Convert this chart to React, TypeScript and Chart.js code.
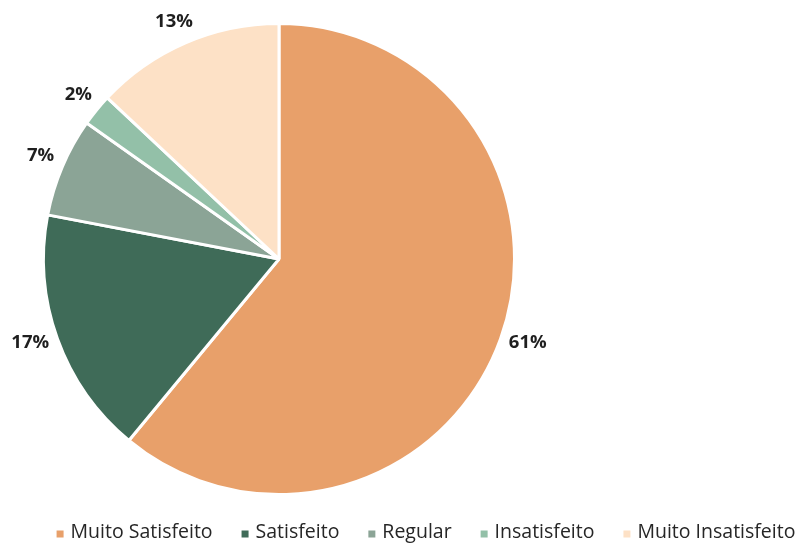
import React, { useEffect, useRef } from "react";
import { Chart, registerables } from "chart.js";

Chart.register(...registerables);

const categories = ["Muito Satisfeito", "Satisfeito", "Regular", "Insatisfeito", "Muito Insatisfeito"];
const values = [61, 17, 6.8, 2.2, 13];
const valueLabels = ["61%", "17%", "7%", "2%", "13%"];
const colors = ["#E8A06A", "#3F6B58", "#8BA496", "#93C0A8", "#FDE1C6"];

const FONT = "'Open Sans', 'Liberation Sans', sans-serif";

const outsideLabels = {
  id: "outsideLabels",
  afterDatasetsDraw(chart: any) {
    const ctx = chart.ctx;
    const meta = chart.getDatasetMeta(0);
    ctx.save();
    ctx.font = `bold 18.5px ${FONT}`;
    ctx.fillStyle = "#1F1F1F";
    ctx.textAlign = "center";
    ctx.textBaseline = "middle";
    meta.data.forEach((arc: any, i: number) => {
      const mid = (arc.startAngle + arc.endAngle) / 2;
      const dx = Math.cos(mid);
      const dy = Math.sin(mid);
      const r = arc.outerRadius + 10;
      const text = valueLabels[i];
      const w = ctx.measureText(text).width;
      const h = 20;
      const x = arc.x + dx * r + (dx * w) / 2;
      const y = arc.y + dy * r + (dy * h) / 2 - 3;
      ctx.fillText(text, x, y);
    });
    ctx.restore();
  },
};

const customLegend = {
  id: "customLegend",
  afterDraw(chart: any) {
    const ctx = chart.ctx;
    ctx.save();
    ctx.font = `19.5px ${FONT}`;
    ctx.textBaseline = "middle";
    ctx.textAlign = "left";
    const box = 7;
    const gapBoxText = 7;
    const gapItems = 29;
    const widths = categories.map((c) => ctx.measureText(c).width);
    const total = widths.reduce((a, w) => a + box + gapBoxText + w, 0) + gapItems * (categories.length - 1);
    let x = 426 - total / 2;
    const y = 532;
    categories.forEach((c, i) => {
      ctx.fillStyle = colors[i];
      ctx.fillRect(x, y - 1.5, box, box);
      x += box + gapBoxText;
      ctx.fillStyle = "#262626";
      ctx.fillText(c, x, y);
      x += widths[i] + gapItems;
    });
    ctx.restore();
  },
};

export default function App() {
  const ref = useRef<HTMLCanvasElement | null>(null);
  useEffect(() => {
    if (!ref.current) return;
    const chart = new Chart(ref.current, {
      type: "pie",
      data: {
        labels: categories,
        datasets: [
          {
            data: values,
            backgroundColor: colors,
            borderColor: "#FFFFFF",
            borderWidth: 3,
          },
        ],
      },
      options: {
        responsive: false,
        animation: false,
        layout: { padding: { left: 42, right: 281, top: 22, bottom: 51 } },
        plugins: {
          legend: { display: false },
          tooltip: { enabled: false },
        },
      },
      plugins: [outsideLabels, customLegend],
    });
    return () => chart.destroy();
  }, []);
  return (
    <div style={{ position: "fixed", left: 0, top: 0, width: 797, height: 547, background: "#fff" }}>
      <canvas ref={ref} width={797} height={547} style={{ display: "block" }} />
    </div>
  );
}
